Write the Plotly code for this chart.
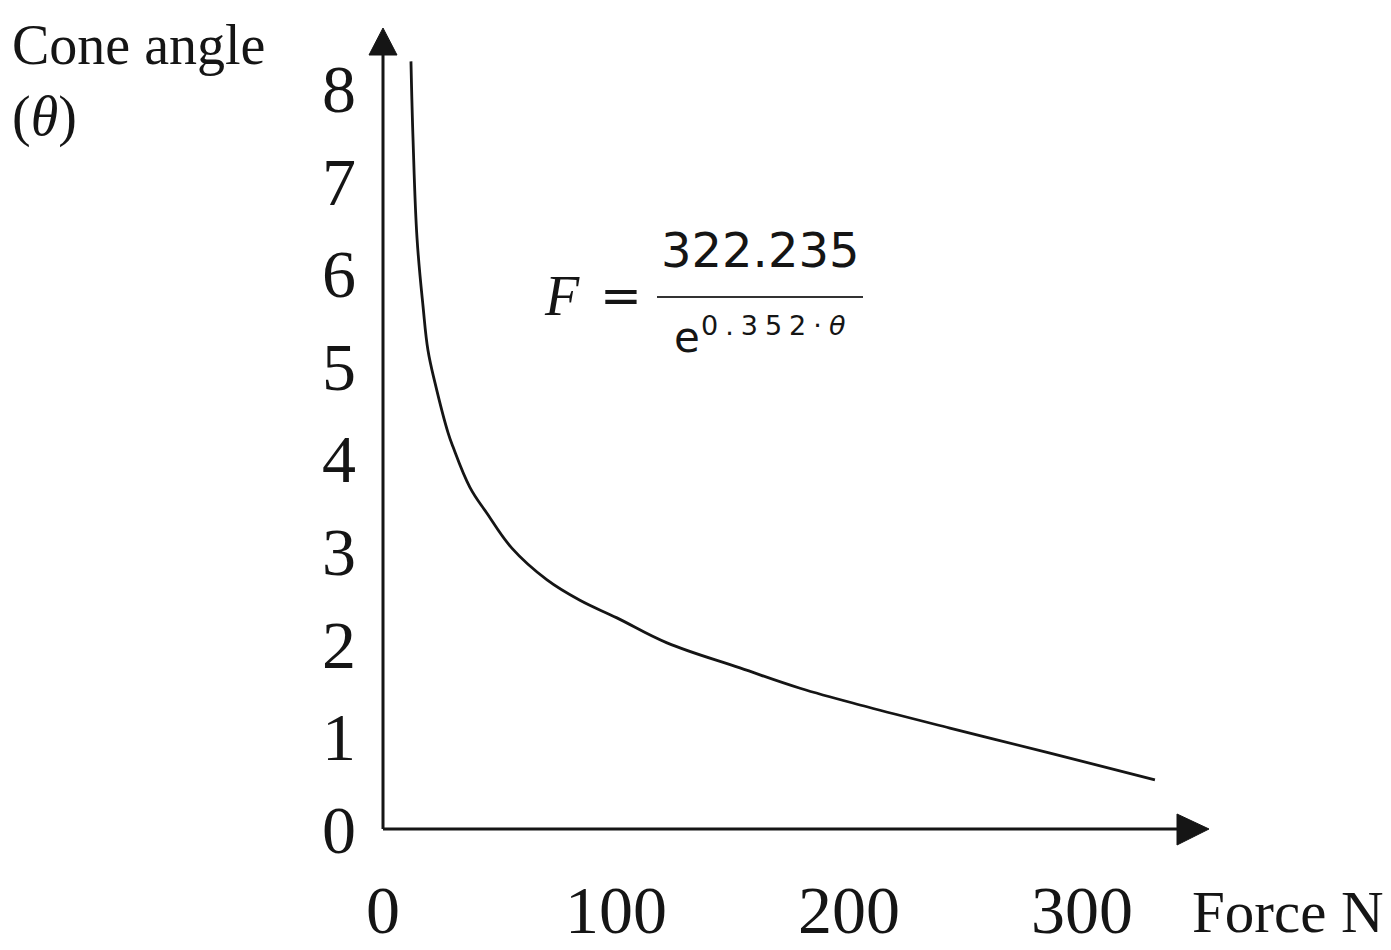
import plotly.graph_objects as go

# Data
force_n = [12.0, 12.9, 14.6, 17.2, 19.3, 22.3, 27.9, 30.0, 37.3, 44.6, 55.4,
           70.4, 84.5, 100.4, 121.9, 153.2, 179.0, 207.7, 243.3, 286.3, 331.3]
cone_angle = [8.29, 7.44, 6.38, 5.64, 5.17, 4.82, 4.28, 4.13, 3.69, 3.41, 3.03,
              2.69, 2.47, 2.28, 2.01, 1.74, 1.52, 1.32, 1.09, 0.82, 0.53]
x_ticks = [0, 100, 200, 300]
y_ticks = [0, 1, 2, 3, 4, 5, 6, 7, 8]

W, H = 1391, 950
L, R, T, B = 383, 1210, 28, 829
PW, PH = R - L, B - T


def px(x):
    return (x - L) / PW


def py(y):
    return (B - y) / PH


SERIF = "Liberation Serif, Times New Roman, serif"
SANS = "DejaVu Sans, sans-serif"
INK = "#151515"

fig = go.Figure()
fig.add_trace(go.Scatter(
    x=force_n, y=cone_angle, mode="lines",
    line=dict(color=INK, width=2.8, shape="spline", smoothing=1.1),
    hoverinfo="skip", showlegend=False,
))

fig.update_layout(
    width=W, height=H,
    margin=dict(l=L, r=W - R, t=T, b=H - B, autoexpand=False),
    paper_bgcolor="white", plot_bgcolor="white",
    showlegend=False,
    xaxis=dict(range=[0, PW / 2.33], tickvals=x_ticks, ticktext=[str(v) for v in x_ticks],
               showgrid=False, zeroline=False, showline=False, ticks="", automargin=False,
               tickfont=dict(family=SERIF, size=68, color=INK), ticklabelstandoff=35),
    yaxis=dict(range=[0, PH / 92.6], tickvals=y_ticks, ticktext=[str(v) for v in y_ticks],
               showgrid=False, zeroline=False, showline=False, ticks="", automargin=False,
               tickfont=dict(family=SERIF, size=68, color=INK), ticklabelstandoff=26),
)

# axes with arrowheads
shapes = [
    dict(type="line", xref="paper", yref="paper", x0=px(383), y0=py(829), x1=px(1180), y1=py(829),
         line=dict(color=INK, width=3)),
    dict(type="line", xref="paper", yref="paper", x0=px(383), y0=py(829), x1=px(383), y1=py(52),
         line=dict(color=INK, width=3)),
    dict(type="path", xref="paper", yref="paper",
         path=f"M {px(1177)} {py(814)} L {px(1209)} {py(829)} L {px(1177)} {py(845)} Z",
         fillcolor=INK, line=dict(color=INK, width=1)),
    dict(type="path", xref="paper", yref="paper",
         path=f"M {px(369)} {py(55)} L {px(383)} {py(28)} L {px(397)} {py(55)} Z",
         fillcolor=INK, line=dict(color=INK, width=1)),
    # fraction bar
    dict(type="line", xref="paper", yref="paper", x0=px(657), y0=py(297), x1=px(863), y1=py(297),
         line=dict(color="#333", width=2.2)),
]
fig.update_layout(shapes=shapes)


def ann(text, x, y, size, family=SERIF, xanchor="left", yanchor="middle", color=INK):
    fig.add_annotation(text=text, x=px(x), y=py(y), xref="paper", yref="paper",
                       showarrow=False, xanchor=xanchor, yanchor=yanchor,
                       font=dict(family=family, size=size, color=color))


ann("Cone angle", 10, 45, 56)
ann("(<i>θ</i>)", 10, 116, 56)
ann("Force N", 1190, 912, 59)
ann("<i>F</i>", 562, 296, 56, xanchor="center")
ann("=", 621, 296, 50, family=SANS, xanchor="center")
ann("322.235", 760, 250, 48, family=SANS, xanchor="center")
ann("e", 687, 337, 42, family=SANS, xanchor="center")
ann('<span style="letter-spacing:7px">0.352·<i>θ</i></span>', 699, 325, 27, family=SANS)

fig.write_html("out.html", config={"displayModeBar": False},
               post_script="document.body.style.margin='0';document.body.style.overflow='hidden';")
